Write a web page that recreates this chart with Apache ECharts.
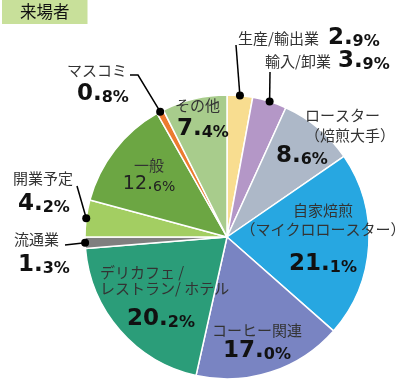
<!DOCTYPE html>
<html>
<head>
<meta charset="utf-8">
<script src="https://cdn.jsdelivr.net/npm/echarts@6/dist/echarts.min.js"></script>
<style>html,body{margin:0;padding:0;background:#fff;}#c{width:400px;height:383px;}</style>
</head>
<body>
<div id="c"></div>
<script>
const titleText = '来場者';
const categories = ['生産/輸出業','輸入/卸業','ロースター\n（焙煎大手）','自家焙煎\n（マイクロロースター）','コーヒー関連','デリカフェ /\nレストラン/ ホテル','流通業','開業予定','一般','マスコミ','その他'];
const values = [2.9, 3.9, 8.6, 21.1, 17.0, 20.2, 1.3, 4.2, 12.6, 0.8, 7.4];
const colors = ['#F8DD90','#B497C7','#ADB8C8','#27A7E1','#7984C2','#2B9D79','#7F7F7F','#A3CE62','#6CA643','#EC7B30','#A8CC8C'];

const CJK = '"Noto Sans CJK JP", "Noto Sans", sans-serif';
const NUM = '"DejaVu Sans", Verdana, sans-serif';

// label layout (positions only)
const lay = [
  {x:238,y:38, align:'left',  va:'middle', mode:'inline', namePadR:9, outside:true, line:[[236,45]]},
  {x:265,y:61, align:'left',  va:'middle', mode:'inline', namePadR:7, outside:true, line:[[270,72]]},
  {x:276,y:105,align:'left',  va:'top', namePadL:29, nLH:20, numPadL:0, numPadT:0},
  {x:323,y:201,align:'center',va:'top', nLH:19, numPadT:14},
  {x:257,y:320,align:'center',va:'top', nLH:20, numPadT:0},
  {x:100,y:264,align:'left',  va:'top', nLH:16, numPadL:27, numPadT:12},
  {x:14, y:229,align:'left',  va:'top', nLH:20, numPadL:4, numPadT:5, outside:true, line:[[65,245]]},
  {x:13, y:168,align:'left',  va:'top', nLH:20, numPadL:5, numPadT:5, outside:true, line:[[77,186]]},
  {x:149,y:155,align:'center',va:'top', nLH:20, numPadT:0, regular:true},
  {x:67, y:60, align:'left',  va:'top', nLH:20, numPadL:10, numPadT:3, outside:true, line:[[138,75],[130,75]]},
  {x:175,y:95, align:'left',  va:'top', nLH:20, numPadL:2, numPadT:3}
];

const rich = {};
lay.forEach((L, i) => {
  rich['n' + i] = {fontFamily: CJK, fontSize: 15, color: '#333', lineHeight: L.nLH || 20,
    padding: [0, L.namePadR || 0, 0, L.namePadL || 0]};
  const big = L.regular ? 19 : 23, small = L.regular ? 14 : 16;
  rich['b' + i] = {fontFamily: NUM, fontSize: big, fontWeight: L.regular ? 'normal' : 'bold', color: L.regular ? '#222' : '#111',
    verticalAlign: 'bottom', padding: [L.numPadT || 0, 0, 0, L.numPadL || 0]};
  rich['s' + i] = {fontFamily: NUM, fontSize: small, fontWeight: L.regular ? 'normal' : 'bold', color: L.regular ? '#222' : '#111',
    verticalAlign: 'bottom'};
});

function labelText(i) {
  const L = lay[i];
  const parts = values[i].toFixed(1).split('.');
  const num = '{b' + i + '|' + parts[0] + '.}{s' + i + '|' + parts[1] + '%}';
  const names = categories[i].split('\n');
  if (L.mode === 'inline') return '{n' + i + '|' + names.join('') + '}' + num;
  return names.map(t => '{n' + i + '|' + t + '}').join('\n') + '\n' + num;
}

const chart = echarts.init(document.getElementById('c'), null, {renderer: 'canvas'});

function sliceLayout(idx) {
  const d = chart.getModel().getSeriesByIndex(0).getData();
  return d.getItemLayout(idx);
}
function edgePoint(idx) {
  const l = sliceLayout(idx);
  const mid = (l.startAngle + l.endAngle) / 2;
  return [l.cx + l.r * Math.cos(mid), l.cy + l.r * Math.sin(mid)];
}

const data = categories.map((c, i) => ({
  name: c,
  value: values[i],
  itemStyle: {color: colors[i]},
  label: {position: lay[i].outside ? 'outside' : 'inside'},
  labelLine: {show: !!lay[i].outside}
}));

chart.setOption({
  animation: false,
  title: {
    text: titleText, left: 2, top: 0,
    backgroundColor: '#C8E09A',
    padding: [2, 18, 2, 18],
    textStyle: {fontFamily: CJK, fontSize: 16.5, fontWeight: 'normal', color: '#111', lineHeight: 20}
  },
  series: [{
    type: 'pie',
    center: [227, 237],
    radius: 142,
    startAngle: 90,
    clockwise: true,
    avoidLabelOverlap: false,
    itemStyle: {borderColor: '#fff', borderWidth: 1.5},
    label: {
      show: true,
      formatter: p => labelText(p.dataIndex),
      rich: rich
    },
    labelLine: {lineStyle: {color: '#000', width: 1.5}, length: 5, length2: 5},
    labelLayout: function (p) {
      const L = lay[p.dataIndex];
      const out = {x: L.x, y: L.y, align: L.align, verticalAlign: L.va};
      if (L.outside) {
        out.labelLinePoints = [edgePoint(p.dataIndex)].concat(L.line);
      }
      return out;
    },
    data: data
  }]
});

// dots at the slice edges for the leader lines
const dots = [];
lay.forEach((L, i) => {
  if (L.outside) {
    const p = edgePoint(i);
    dots.push({type: 'circle', shape: {cx: p[0], cy: p[1], r: 4}, style: {fill: '#000'}, z: 100});
  }
});
chart.setOption({graphic: dots});
</script>
</body>
</html>
